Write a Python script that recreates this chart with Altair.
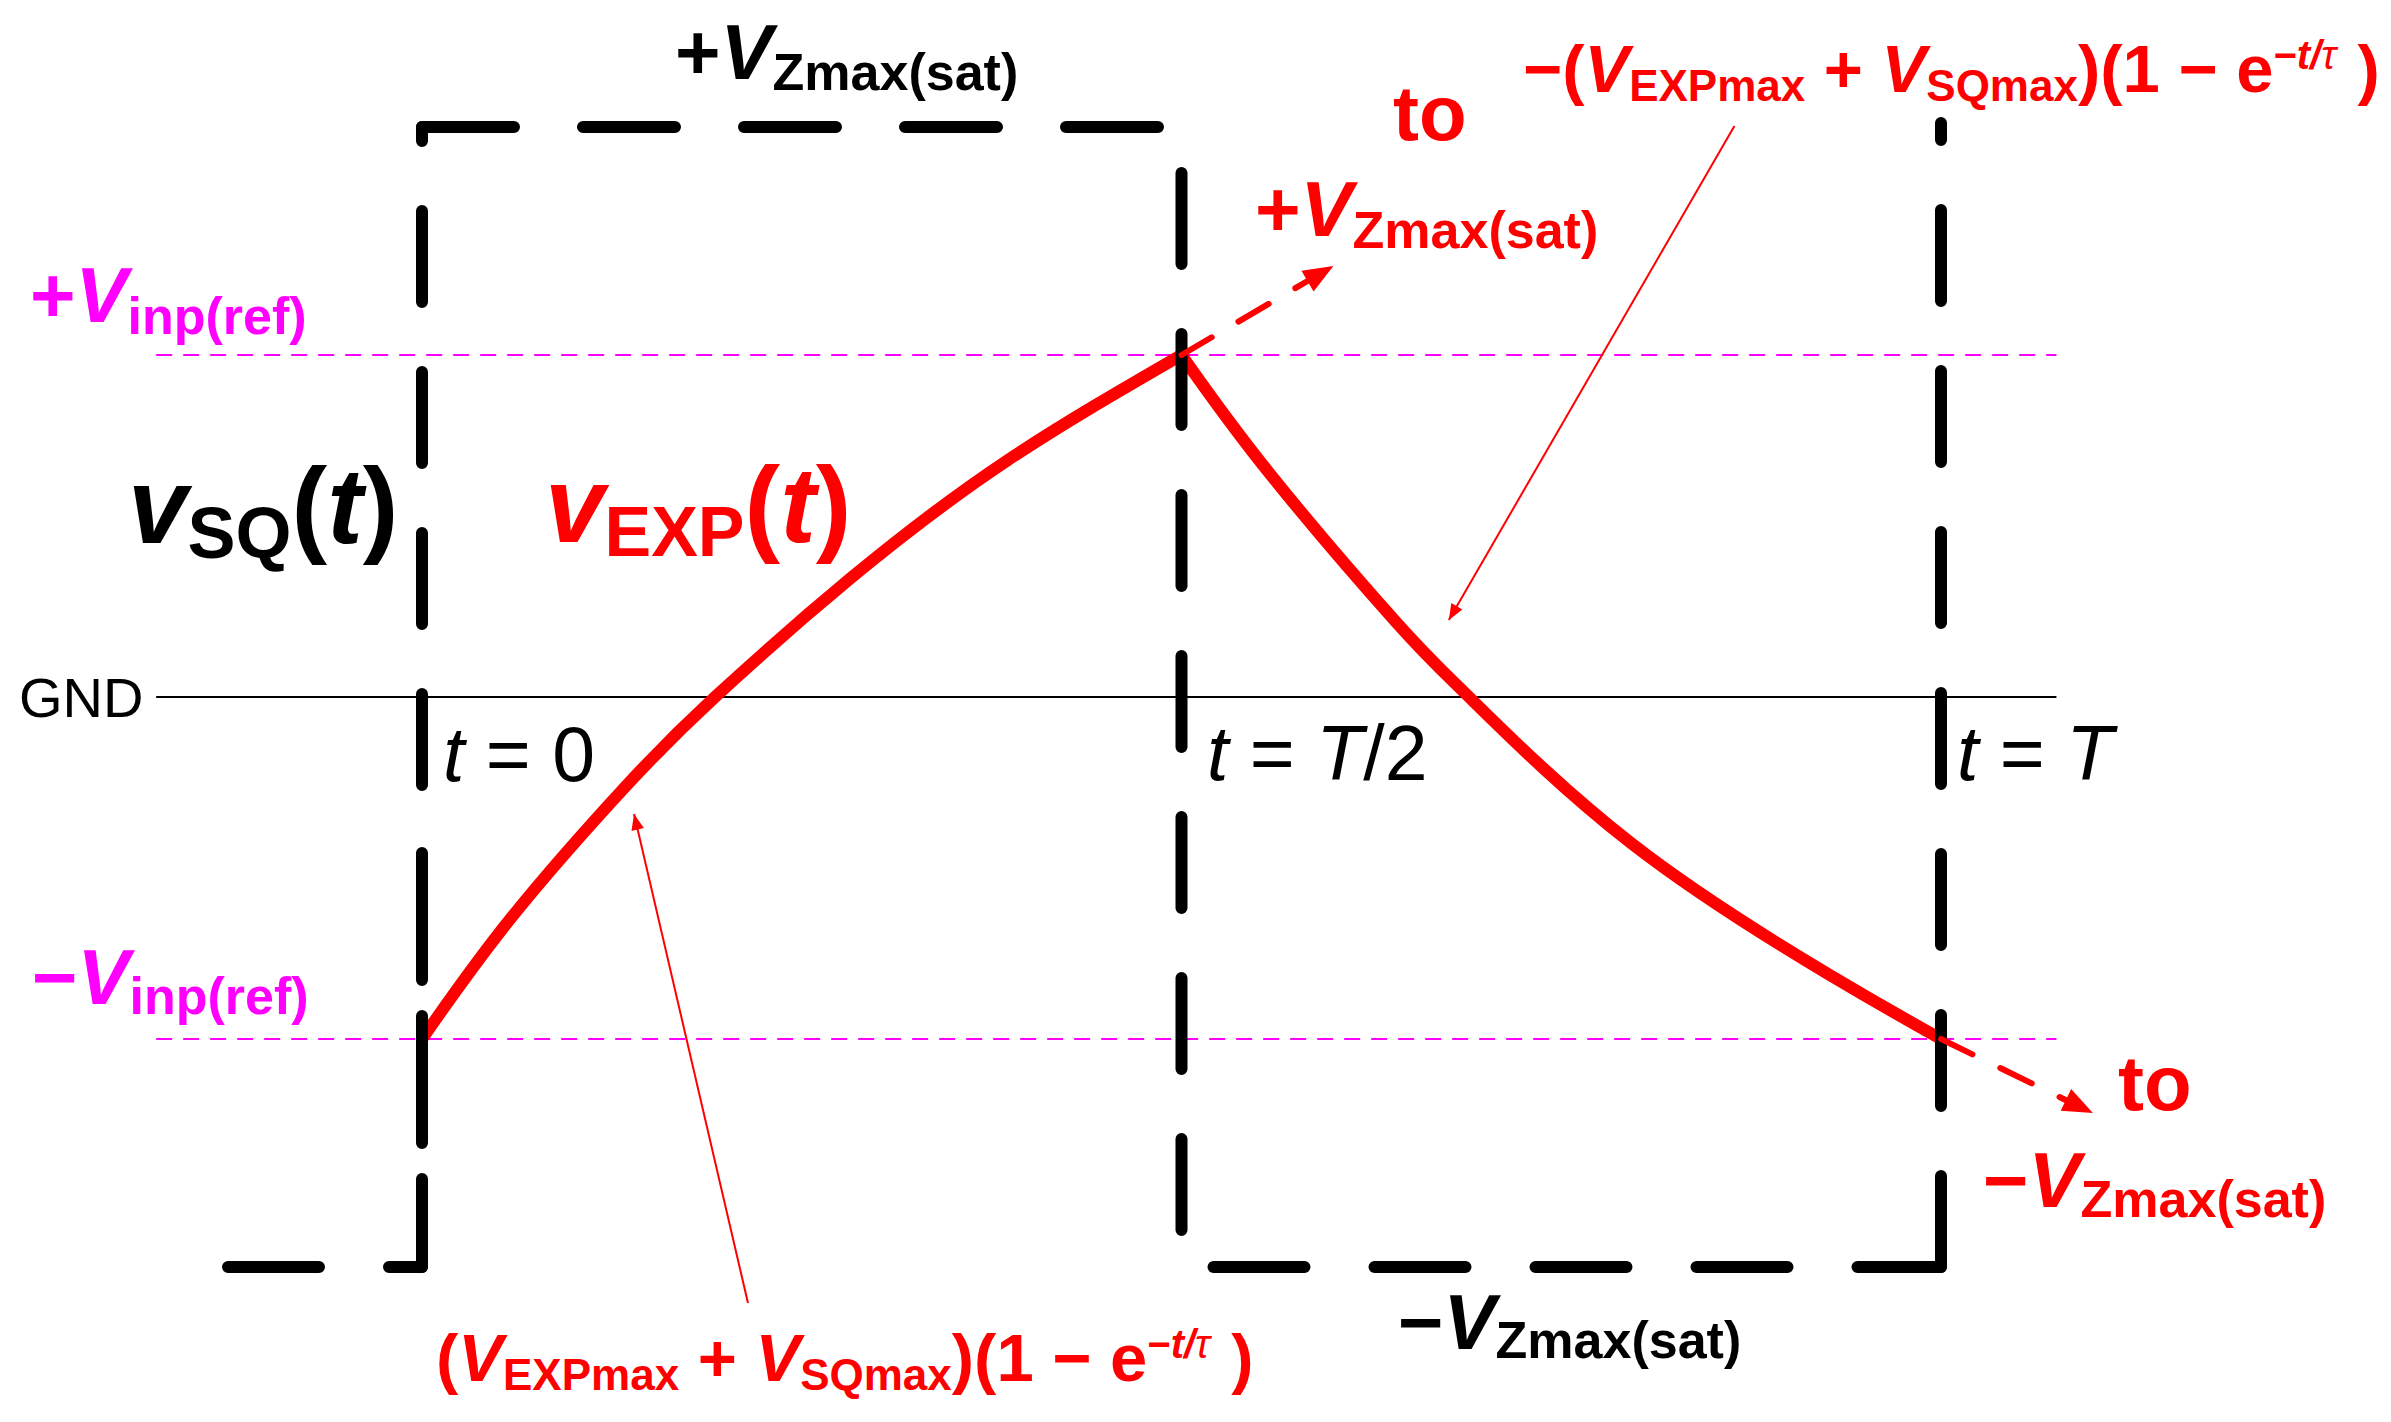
import math
import altair as alt
import pandas as pd

# ---------------- values ----------------
# time in units of the period T, voltage in arbitrary units (GND = 0)
VZ_SAT = 5.0            # +/- V_Zmax(sat) level of the square wave v_SQ(t)
VINP_REF = 3.0          # +/- V_inp(ref) switching thresholds
T_HALF = 0.5
T_FULL = 1.0
T_START = -0.132        # left end of the square wave
REF_T0, REF_T1 = -0.175, 1.076   # extent of the GND and reference lines

# v_EXP(t): charging branch (0 .. T/2) and discharging branch (T/2 .. T)
rise_t = [0.0000, 0.0586, 0.1343, 0.1929, 0.2824, 0.3858, 0.5000]
rise_v = [-3.000, -1.939, -0.781, 0.000, 1.044, 2.079, 3.000]
fall_t = [0.5000, 0.5583, 0.6412, 0.6893, 0.7959, 0.9269, 1.0000]
fall_v = [3.000, 1.956, 0.658, 0.000, -1.281, -2.439, -3.000]

# dashed continuation arrows ("to +/-V_Zmax(sat)")
cont_t0 = [0.500, 1.000]
cont_v0 = [3.000, -3.000]
cont_t1 = [0.583, 1.082]
cont_v1 = [3.649, -3.535]
cont_tip_t = [0.600, 1.100]
cont_tip_v = [3.781, -3.649]

# thin leader arrows from the formulas to the curve
lead_t0 = [0.864, 0.2146]
lead_v0 = [5.009, -5.316]
lead_t1 = [0.676, 0.1396]
lead_v1 = [0.675, -1.026]

# ---------------- layout (screen calibration) ----------------
W, H = 2375, 1406
PX_T0, PX_PER_T = 422.0, 1519.0
PY_GND, PX_PER_V = 697.0, 114.0


def tx(px):
    return (px - PX_T0) / PX_PER_T


def vy(py):
    return (PY_GND - py) / PX_PER_V


XS = alt.Scale(domain=[tx(8), tx(8 + W)], nice=False, zero=False)
YS = alt.Scale(domain=[vy(8 + H), vy(8)], nice=False, zero=False)


def X(f):
    return alt.X(f, type="quantitative", scale=XS, axis=None)


def Y(f):
    return alt.Y(f, type="quantitative", scale=YS, axis=None)


RED = "#ff0000"
MAG = "#ff00ff"
BLK = "#000000"
FONT = "Liberation Sans"

layers = []

# reference lines
ref_df = pd.DataFrame({"t0": [REF_T0, REF_T0], "t1": [REF_T1, REF_T1],
                       "v": [VINP_REF, -VINP_REF]})
layers.append(alt.Chart(ref_df).mark_rule(color=MAG, strokeWidth=2, strokeDash=[16, 11]).encode(
    x=X("t0"), x2="t1", y=Y("v")))
gnd_df = pd.DataFrame({"t0": [REF_T0], "t1": [REF_T1], "v": [0.0]})
layers.append(alt.Chart(gnd_df).mark_rule(color=BLK, strokeWidth=2).encode(
    x=X("t0"), x2="t1", y=Y("v")))

# v_EXP(t)
curve_df = pd.DataFrame({
    "t": rise_t + fall_t,
    "v": rise_v + fall_v,
    "seg": ["rise"] * len(rise_t) + ["fall"] * len(fall_t),
    "i": list(range(len(rise_t))) + list(range(len(fall_t))),
})
layers.append(alt.Chart(curve_df).mark_line(color=RED, strokeWidth=12, interpolate="natural",
                                            strokeJoin="miter").encode(
    x=X("t"), y=Y("v"), detail="seg:N", order="i:Q"))

# square wave v_SQ(t): each edge with its own dash phase
split_v = vy(839.5)
edges = [
    (0.0, -VZ_SAT, T_START, -VZ_SAT, [91, 70], 58),
    (0.0, VZ_SAT, 0.0, split_v, [91, 70], 77),
    (0.0, -VZ_SAT, 0.0, split_v, [127, 36], 39),
    (0.0, VZ_SAT, T_HALF, VZ_SAT, [92, 69], 0),
    (T_HALF, VZ_SAT, T_HALF, -VZ_SAT, [91, 70], 115),
    (T_HALF, -VZ_SAT, T_FULL, -VZ_SAT, [91, 70], 129),
    (T_FULL, -VZ_SAT, T_FULL, VZ_SAT + 0.035, [91, 70], 0),
]
for (a, b, c, d, dash, off) in edges:
    df = pd.DataFrame({"t0": [a], "v0": [b], "t1": [c], "v1": [d]})
    layers.append(alt.Chart(df).mark_rule(color=BLK, strokeWidth=12, strokeCap="round",
                                          strokeDash=dash, strokeDashOffset=off).encode(
        x=X("t0"), y=Y("v0"), x2="t1", y2="v1"))

# dashed continuation arrows
cont_df = pd.DataFrame({"t0": cont_t0, "v0": cont_v0, "t1": cont_t1, "v1": cont_v1})
layers.append(alt.Chart(cont_df).mark_rule(color=RED, strokeWidth=6, strokeCap="round",
                                           strokeDash=[35, 31]).encode(
    x=X("t0"), y=Y("v0"), x2="t1", y2="v1"))

# thin leader lines
lead_df = pd.DataFrame({"t0": lead_t0, "v0": lead_v0, "t1": lead_t1, "v1": lead_v1})
layers.append(alt.Chart(lead_df).mark_rule(color=RED, strokeWidth=2).encode(
    x=X("t0"), y=Y("v0"), x2="t1", y2="v1"))


def screen_angle(t0, v0, t1, v1):
    dx = (t1 - t0) * PX_PER_T
    dy = -(v1 - v0) * PX_PER_V
    return math.degrees(math.atan2(dx, -dy)) % 360


heads = []
for k in range(2):
    heads.append({"t": cont_tip_t[k], "v": cont_tip_v[k], "sz": 900,
                  "ang": screen_angle(cont_t0[k], cont_v0[k], cont_tip_t[k], cont_tip_v[k])})
for k in range(2):
    heads.append({"t": lead_t1[k], "v": lead_v1[k], "sz": 256,
                  "ang": screen_angle(lead_t0[k], lead_v0[k], lead_t1[k], lead_v1[k])})
head_df = pd.DataFrame(heads)
layers.append(alt.Chart(head_df).mark_point(shape="M0,0L0.8,2L-0.8,2Z", filled=True, opacity=1,
                                            color=RED, strokeWidth=0).encode(
    x=X("t"), y=Y("v"), angle=alt.Angle("ang:Q", scale=None), size=alt.Size("sz:Q", scale=None)))

# ---------------- text (composed from runs) ----------------
BOLD_W = {" ": 278, "+": 584, "\u2212": 584, "(": 333, ")": 333, "/": 278, "=": 584,
          "E": 667, "P": 667, "Q": 778, "S": 667, "T": 611, "V": 667, "X": 667, "Z": 611,
          "G": 778, "N": 722, "D": 722, "a": 556, "e": 556, "f": 333, "i": 278, "m": 889,
          "n": 611, "o": 611, "p": 611, "r": 389, "s": 556, "t": 333, "v": 556, "x": 556,
          "\u03c4": 480}
REG_W = {" ": 278, "+": 584, "\u2212": 584, "(": 333, ")": 333, "/": 278, "=": 584,
         "E": 667, "P": 667, "Q": 778, "S": 667, "T": 611, "V": 667, "X": 667, "Z": 611,
         "G": 778, "N": 722, "D": 722, "a": 556, "e": 556, "f": 278, "i": 222, "m": 833,
         "n": 556, "o": 556, "p": 556, "r": 333, "s": 500, "t": 278, "v": 500, "x": 500,
         "\u03c4": 440}


def run_width(text, style, size):
    table = BOLD_W if style in ("B", "BI") else REG_W
    return sum(table.get(c, 556) for c in text) * size / 1000.0


M = "\u2212"
formula = ["V", "EXPmax", " + ", "V", "SQmax", ")(1 " + M + " e", M, "t/", "\u03c4", " )"]
formula_style = [("BI", 67, 0), ("B", 44, 9), ("B", 67, 0), ("BI", 67, 0), ("B", 44, 9),
                 ("B", 67, 0), ("B", 40, -23), ("BI", 40, -23), ("I", 40, -23), ("B", 67, 0)]

labels = [
    # start x (px), baseline (px), colour, texts, styles (style, size, dy)
    (675, 79, BLK, ["+", "V", "Zmax(sat)"], [("B", 78, 0), ("BI", 78, 0), ("B", 52, 11)]),
    (1393, 140, RED, ["to"], [("B", 78, 0)]),
    (1255, 236, RED, ["+", "V", "Zmax(sat)"], [("B", 78, 0), ("BI", 78, 0), ("B", 52, 12)]),
    (1523, 92, RED, [M + "("] + formula, [("B", 67, 0)] + formula_style),
    (30, 322, MAG, ["+", "V", "inp(ref)"], [("B", 78, 0), ("BI", 78, 0), ("B", 52, 12)]),
    (128, 543, BLK, ["v", "SQ", "(", "t", ")"],
     [("BI", 107, 0), ("B", 72, 15), ("B", 107, 0), ("BI", 107, 0), ("B", 107, 0)]),
    (545, 542, RED, ["v", "EXP", "(", "t", ")"],
     [("BI", 107, 0), ("B", 70, 14), ("B", 107, 0), ("BI", 107, 0), ("B", 107, 0)]),
    (19, 717, BLK, ["GND"], [("R", 56, 0)]),
    (443, 781, BLK, ["t", " = 0"], [("I", 77, 0), ("R", 77, 0)]),
    (1207, 780, BLK, ["t", " = ", "T", "/2"], [("I", 77, 0), ("R", 77, 0), ("I", 77, 0), ("R", 77, 0)]),
    (1957, 780, BLK, ["t", " = ", "T"], [("I", 77, 0), ("R", 77, 0), ("I", 77, 0)]),
    (32, 1004, MAG, [M, "V", "inp(ref)"], [("B", 78, 0), ("BI", 78, 0), ("B", 52, 10)]),
    (436, 1381, RED, ["("] + formula, [("B", 67, 0)] + formula_style),
    (1398, 1349, BLK, [M, "V", "Zmax(sat)"], [("B", 78, 0), ("BI", 78, 0), ("B", 52, 9)]),
    (2118, 1110, RED, ["to"], [("B", 78, 0)]),
    (1983, 1207, RED, [M, "V", "Zmax(sat)"], [("B", 78, 0), ("BI", 78, 0), ("B", 52, 10)]),
]

rows = []
for (x0, base, col, texts, styles) in labels:
    x = x0
    for txt, (st, sz, dy) in zip(texts, styles):
        lead = txt[: len(txt) - len(txt.lstrip(" "))]
        shown = txt.strip(" ")
        rows.append({"t": tx(x + run_width(lead, st, sz)), "v": vy(base + dy), "text": shown,
                     "size": sz, "color": col, "style": st})
        x += run_width(txt, st, sz)
text_df = pd.DataFrame(rows)

style_props = {"B": ("bold", "normal"), "BI": ("bold", "italic"),
               "R": ("normal", "normal"), "I": ("normal", "italic")}
for st, (fw, fs) in style_props.items():
    sub = text_df[text_df["style"] == st]
    if len(sub) == 0:
        continue
    layers.append(alt.Chart(sub).mark_text(align="left", baseline="alphabetic", font=FONT,
                                           fontWeight=fw, fontStyle=fs).encode(
        x=X("t"), y=Y("v"), text="text:N",
        size=alt.Size("size:Q", scale=None), color=alt.Color("color:N", scale=None)))

chart = alt.layer(*layers).properties(width=W, height=H, padding=0, background="white") \
    .configure_view(stroke=None)

chart.save("out.html", embed_options={"renderer": "svg", "actions": False})
